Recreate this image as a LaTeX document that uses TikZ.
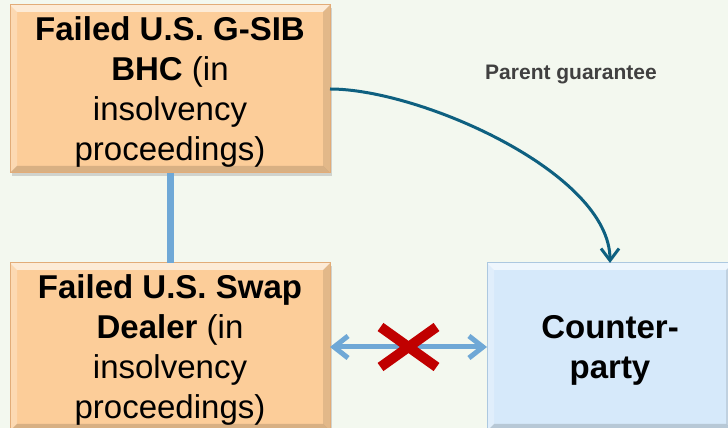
\documentclass[tikz,border=0pt]{standalone}
\usepackage{fontspec}
\setmainfont{Liberation Sans}
\usetikzlibrary{arrows.meta,positioning,shadows}

\definecolor{bgcol}{RGB}{243,248,239}
\definecolor{firmfill}{RGB}{252,205,153}
\definecolor{firmedge}{RGB}{226,172,120}
\definecolor{partyfill}{RGB}{214,233,250}
\definecolor{partyedge}{RGB}{172,200,224}
\definecolor{linkblue}{RGB}{111,168,214}
\definecolor{guarteal}{RGB}{14,96,128}
\definecolor{stopred}{RGB}{192,0,0}
\definecolor{labelgrey}{RGB}{64,64,64}

\tikzset{
  bevel/.style={path picture={
    \fill[white,opacity=0.6] (path picture bounding box.north west) -- (path picture bounding box.north east)
      -- ([xshift=-7pt,yshift=-7pt]path picture bounding box.north east) -- ([xshift=7pt,yshift=-7pt]path picture bounding box.north west) -- cycle;
    \fill[white,opacity=0.25] (path picture bounding box.north west) -- (path picture bounding box.south west)
      -- ([xshift=7pt,yshift=7pt]path picture bounding box.south west) -- ([xshift=7pt,yshift=-7pt]path picture bounding box.north west) -- cycle;
    \fill[black,opacity=0.10] (path picture bounding box.north east) -- (path picture bounding box.south east)
      -- ([xshift=-7pt,yshift=7pt]path picture bounding box.south east) -- ([xshift=-7pt,yshift=-7pt]path picture bounding box.north east) -- cycle;
    \fill[black,opacity=0.14] (path picture bounding box.south west) -- (path picture bounding box.south east)
      -- ([xshift=-7pt,yshift=7pt]path picture bounding box.south east) -- ([xshift=7pt,yshift=7pt]path picture bounding box.south west) -- cycle;
  }}
}

\begin{document}
\begin{tikzpicture}[x=1pt,y=1pt,node distance=90pt,outer sep=0pt,
    box/.style={draw,line width=1pt,minimum width=320pt,minimum height=168pt,align=center,
      font=\fontsize{33}{40}\selectfont,text depth=-3pt,bevel,
      drop shadow={shadow xshift=2pt,shadow yshift=-3pt,opacity=0.3}},
    firm node/.style={box,fill=firmfill,draw=firmedge},
    party node/.style={box,fill=partyfill,draw=partyedge,minimum width=246pt,
      font=\bfseries\fontsize{33}{40}\selectfont},
    owner link/.style={line width=7pt,draw=linkblue},
    trade link/.style={line width=5pt,draw=linkblue,{Straight Barb[length=14pt,width=22pt]}-{Straight Barb[length=14pt,width=22pt]}},
    guarantee/.style={line width=3pt,draw=guarteal,-{Straight Barb[length=12pt,width=18pt]}},
    cross/.style={line width=10pt,draw=stopred}]
  \fill[bgcol] (0,0) rectangle (728,428);
  \useasboundingbox (0,0) rectangle (728,428);

  \node[firm node] (bhc) at (170,339) {\textbf{Failed U.S. G-SIB}\\\textbf{BHC} (in\\insolvency\\proceedings)};
  \node[firm node] (dealer) [below=of bhc] {\textbf{Failed U.S. Swap}\\\textbf{Dealer} (in\\insolvency\\proceedings)};
  \node[party node] (cpty) [right=157pt of dealer] {Counter-\\party};
  \node[font=\bfseries\fontsize{21}{25}\selectfont,text=labelgrey] (pg) at (571,353) {Parent guarantee};

  \draw[owner link] (bhc) -- (dealer);
  \draw[trade link] (dealer) -- node[coordinate] (cut) {} (cpty);
  \draw[guarantee] (bhc.east) to[out=0,in=90,looseness=0.7] (cpty.north);
  \draw[cross] (cut) +(-28,-20) -- +(28,20);
  \draw[cross] (cut) +(-28,20) -- +(28,-20);
\end{tikzpicture}
\end{document}
